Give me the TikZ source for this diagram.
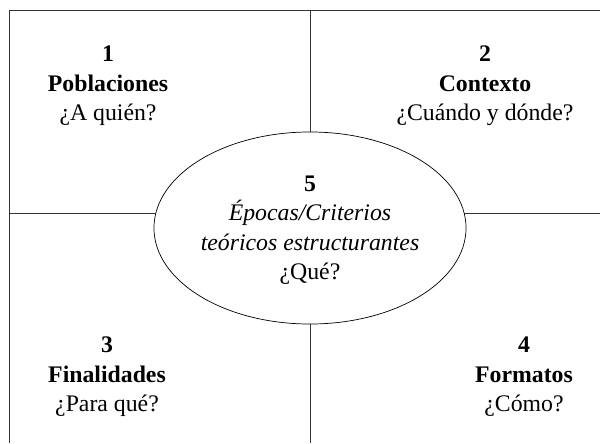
\documentclass[tikz,border=0pt]{standalone}
\usepackage{fontspec}
\setmainfont{Liberation Serif}
\usetikzlibrary{shapes.geometric}

\tikzset{
	cuadro/.style={align=center, font=\fontsize{16.9}{21}\selectfont},
	linea/.style={line width=0.7pt, black!80}
}

\begin{document}
\begin{tikzpicture}[x=0.025cm, y=0.025cm]
	\useasboundingbox (0,0) rectangle (600,443);
	% Marco %
	\coordinate (izqarriba) at (9,433);
	\coordinate (izqabajo) at (9,0);
	\coordinate (derarriba) at (600,433);
	\draw [linea] (izqabajo) -- (izqarriba) -- (derarriba);
	% Cruz %
	\coordinate (arriba) at (310,433);
	\coordinate (abajo) at (310,0);
	\coordinate (izq) at (9,229.4);
	\coordinate (der) at (600,229.4);
	\draw [linea] (arriba) -- (abajo);
	\draw [linea] (izq) -- (der);
	% Centro %
	\node [ellipse, draw, fill=white, line width=0.5pt, minimum width=312*0.7113pt, minimum height=192*0.7113pt, inner sep=0pt] (centro) at (310,215) {};
	\node [cuadro] (quinto) at (310,213) {\textbf{5}\\ \textit{Épocas/Criterios}\\ \textit{teóricos estructurantes}\\ ¿Qué?};
	% Cuadrantes %
	\node [cuadro] (poblaciones) at (108,357) {\textbf{1}\\ \textbf{Poblaciones}\\ ¿A quién?};
	\node [cuadro] (contexto) at (485,357) {\textbf{2}\\ \textbf{Contexto}\\ ¿Cuándo y dónde?};
	\node [cuadro] (finalidades) at (107,66) {\textbf{3}\\ \textbf{Finalidades}\\ ¿Para qué?};
	\node [cuadro] (formatos) at (524,66) {\textbf{4}\\ \textbf{Formatos}\\ ¿Cómo?};
\end{tikzpicture}
\end{document}
